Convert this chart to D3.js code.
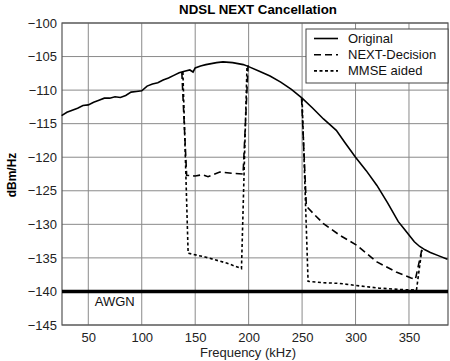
<!DOCTYPE html>
<html>
<head>
<meta charset="utf-8">
<script src="https://cdn.jsdelivr.net/npm/d3@7"></script>
<style>
  body { margin: 0; background: #fff; }
  svg { display: block; font-family: "Liberation Sans", Arial, sans-serif; }
</style>
</head>
<body>
<svg width="450" height="361"></svg>
<script>
// frequency (kHz), level (dBm/Hz)
const original = [
  [25, -113.8], [30, -113.3], [35, -113.0], [40, -112.7], [45, -112.3], [50, -112.2],
  [55, -111.8], [60, -111.5], [65, -111.2], [70, -111.2], [75, -111.0], [80, -111.1],
  [85, -110.8], [90, -110.3], [95, -110.2], [100, -110.1], [105, -109.4], [110, -109.1],
  [115, -108.9], [120, -108.5], [125, -108.2], [130, -107.8], [135, -107.4], [140, -107.2],
  [145, -107.0], [148, -107.3], [150, -106.7], [155, -106.4], [160, -106.2], [170, -105.9],
  [176, -105.8], [185, -105.9], [195, -106.2], [200, -106.5], [210, -107.2], [220, -107.9],
  [230, -108.8], [240, -109.9], [250, -111.2], [260, -112.7], [270, -114.3], [275, -115.0],
  [282, -116.0], [290, -117.8], [300, -120.0], [310, -122.0], [320, -124.2], [330, -126.8],
  [340, -129.6], [345, -130.6], [350, -131.6], [355, -132.6], [360, -133.3], [365, -133.8],
  [370, -134.2], [378, -134.7], [386, -135.2]
];
// segments where NEXT-Decision leaves the original curve
const nextDecision = [
  [[137.5, -107.3], [142, -122.7], [150, -122.8], [157, -122.6], [162, -122.9], [173, -122.2], [185, -122.4], [194.8, -122.5], [199.5, -106.3]],
  [[249.5, -111.2], [254, -127.3], [260, -128.3], [270, -129.9], [285, -131.6], [301, -133.1], [320, -135.6], [338, -137.1], [352, -138.0], [356, -138.2], [362, -133.8]]
];
// segments where MMSE aided leaves the original curve
const mmseAided = [
  [[138.5, -107.3], [143.4, -134.3], [160, -134.9], [180, -135.8], [193.3, -136.6], [198.5, -106.3]],
  [[250, -111.3], [255.6, -138.5], [270, -138.7], [285, -138.8], [305, -139.2], [322, -139.5], [340, -139.7], [357, -139.8], [362, -133.8]]
];
const awgnLevel = -140;
const xTicks = [50, 100, 150, 200, 250, 300, 350];
const yTicks = [-100, -105, -110, -115, -120, -125, -130, -135, -140, -145];
const legendItems = [
  { label: "Original", dash: null },
  { label: "NEXT-Decision", dash: "7,4" },
  { label: "MMSE aided", dash: "3,2.5" }
];

const width = 450, height = 361;
const marginTop = 23, marginRight = 2, marginBottom = 36, marginLeft = 62;

const x = d3.scaleLinear()
  .domain([25.4, 386.5])
  .range([marginLeft, width - marginRight]);
const y = d3.scaleLinear()
  .domain([-145, -100])
  .range([height - marginBottom, marginTop]);

const svg = d3.select("svg");

// grid
svg.append("g")
  .selectAll("line")
  .data(xTicks)
  .join("line")
  .attr("x1", d => x(d)).attr("x2", d => x(d))
  .attr("y1", marginTop).attr("y2", height - marginBottom)
  .attr("stroke", "#8a8a8a").attr("stroke-width", 1);
svg.append("g")
  .selectAll("line")
  .data(yTicks)
  .join("line")
  .attr("x1", marginLeft).attr("x2", width - marginRight)
  .attr("y1", d => y(d)).attr("y2", d => y(d))
  .attr("stroke", "#8a8a8a").attr("stroke-width", 1);

// axes
svg.append("g")
  .attr("transform", `translate(0,${height - marginBottom})`)
  .call(d3.axisBottom(x).tickValues(xTicks).tickSize(0).tickPadding(8))
  .call(g => g.select(".domain").remove())
  .call(g => g.selectAll("text").attr("font-size", 13).attr("fill", "#222")
    .attr("font-family", "Liberation Sans, Arial, sans-serif"));

svg.append("g")
  .attr("transform", `translate(${marginLeft},0)`)
  .call(d3.axisLeft(y).tickValues(yTicks).tickSize(0).tickPadding(5))
  .call(g => g.select(".domain").remove())
  .call(g => g.selectAll("text").attr("font-size", 13).attr("fill", "#222")
    .attr("font-family", "Liberation Sans, Arial, sans-serif"));

// frame
svg.append("rect")
  .attr("x", marginLeft).attr("y", marginTop)
  .attr("width", width - marginRight - marginLeft)
  .attr("height", height - marginBottom - marginTop)
  .attr("fill", "none").attr("stroke", "#555").attr("stroke-width", 1.2);

// AWGN floor
svg.append("line")
  .attr("x1", marginLeft).attr("x2", width - marginRight)
  .attr("y1", y(awgnLevel)).attr("y2", y(awgnLevel))
  .attr("stroke", "#000").attr("stroke-width", 3.5);
svg.append("text")
  .attr("x", x(56)).attr("y", y(awgnLevel) + 14.5)
  .attr("font-size", 13).attr("fill", "#111")
  .text("AWGN");

const line = d3.line()
  .x(d => x(d[0]))
  .y(d => y(d[1]));

svg.append("path")
  .attr("fill", "none").attr("stroke", "#000").attr("stroke-width", 1.6)
  .attr("d", line(original));

svg.append("g")
  .selectAll("path")
  .data(nextDecision)
  .join("path")
  .attr("fill", "none").attr("stroke", "#000").attr("stroke-width", 1.6)
  .attr("stroke-dasharray", "7,4")
  .attr("d", d => line(d));

svg.append("g")
  .selectAll("path")
  .data(mmseAided)
  .join("path")
  .attr("fill", "none").attr("stroke", "#000").attr("stroke-width", 1.6)
  .attr("stroke-dasharray", "3,2.5")
  .attr("d", d => line(d));

// legend
const legend = svg.append("g").attr("transform", "translate(306,29)");
legend.append("rect")
  .attr("width", 142).attr("height", 54)
  .attr("fill", "#fff").attr("stroke", "#444").attr("stroke-width", 1);
const rows = legend.selectAll("g")
  .data(legendItems)
  .join("g")
  .attr("transform", (d, i) => `translate(0,${9.5 + i * 16.2})`);
rows.append("line")
  .attr("x1", 8).attr("x2", 32)
  .attr("stroke", "#000").attr("stroke-width", 1.6)
  .attr("stroke-dasharray", d => d.dash);
rows.append("text")
  .attr("x", 42).attr("dy", "0.35em")
  .attr("font-size", 13).attr("fill", "#111")
  .text(d => d.label);

// titles
svg.append("text")
  .attr("x", 258).attr("y", 14)
  .attr("text-anchor", "middle")
  .attr("font-size", 13.3).attr("font-weight", "bold")
  .text("NDSL NEXT Cancellation");

svg.append("text")
  .attr("x", 248).attr("y", 357)
  .attr("text-anchor", "middle")
  .attr("font-size", 13).attr("fill", "#222")
  .text("Frequency (kHz)");

svg.append("text")
  .attr("transform", "translate(16,175) rotate(-90)")
  .attr("text-anchor", "middle")
  .attr("font-size", 12).attr("font-weight", "bold")
  .text("dBm/Hz");
</script>
</body>
</html>
